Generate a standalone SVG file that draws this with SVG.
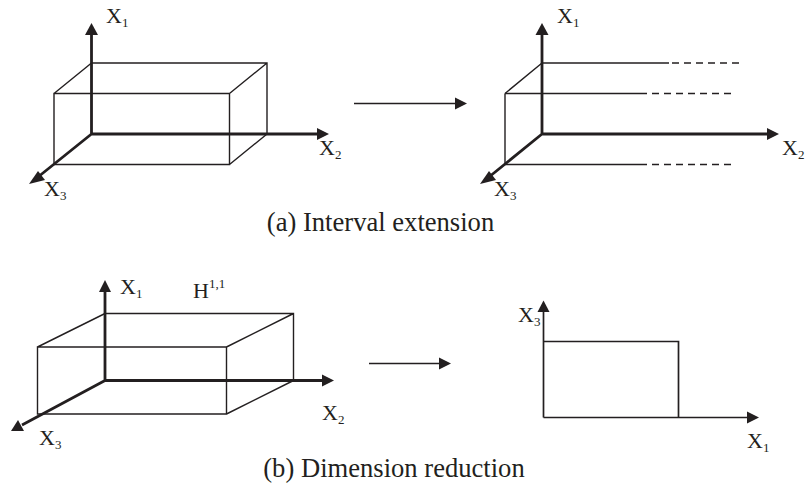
<svg xmlns="http://www.w3.org/2000/svg" width="805" height="484" viewBox="0 0 805 484">
<style>
text{font-family:"Liberation Serif","Times New Roman",serif;fill:#231f20}
.l{font-size:22px}
.s{font-size:13px}
.c{font-size:26.600px;text-anchor:middle}
.t,.a,.d,.m{stroke:#231f20;fill:none}
.t{stroke-width:1.4}
.a{stroke-width:2.8}
.h{fill:#231f20;stroke:none}
.d{stroke-width:1.4;stroke-dasharray:7 5}
.m{stroke-width:1.7}
</style>
<rect width="805" height="484" fill="#fff"/>
<g id="connectors">
<path class="m" d="M354 103.500H456"/>
<polygon class="h" points="467,103.500 455,97.500 455,109.500"/>
<path class="m" d="M369 363.500H440"/>
<polygon class="h" points="451,363.500 439,357.500 439,369.500"/>
</g>
<g id="panel-a-left">
<path class="t" d="M54 93.500H229.500V164.500H54ZM91.500 63H267V134M54 93.500L91.500 63M229.500 93.500L267 63M229.500 164.500L267 134"/>
<path class="a" d="M91.500 134V34M91.500 134H320M91.500 134L38 177"/>
<polygon class="h" points="91.500,23 98,35 85,35"/>
<polygon class="h" points="329,134 317,128 317,140"/>
<polygon class="h" points="29,184 38,171 45,180"/>
<text class="l" x="106" y="23">X<tspan class="s" dy="4">1</tspan></text>
<text class="l" x="319" y="155">X<tspan class="s" dy="4">2</tspan></text>
<text class="l" x="44" y="196">X<tspan class="s" dy="4">3</tspan></text>
</g>
<g id="panel-a-right">
<path class="t" d="M505 93.500V164.500M505 93.500L542 63"/>
<path class="m" d="M542 63H669M505 93.500H647M505 164.500H647"/>
<path class="d" d="M672 63H743M652 93.500H731M652 164.500H731"/>
<path class="a" d="M542 134V34M542 134H770M542 134L489 177"/>
<polygon class="h" points="542,23 548.500,35 535.500,35"/>
<polygon class="h" points="779,134 767,128 767,140"/>
<polygon class="h" points="480,184 489,171 496,180"/>
<text class="l" x="557" y="23">X<tspan class="s" dy="4">1</tspan></text>
<text class="l" x="782" y="155">X<tspan class="s" dy="4">2</tspan></text>
<text class="l" x="494" y="196">X<tspan class="s" dy="4">3</tspan></text>
</g>
<g id="caption-a"><text class="c" x="380.500" y="231">(a) Interval extension</text></g>
<g id="panel-b-left">
<path class="t" d="M37.500 347H226.500V414H37.500ZM105 313.500H293.500V380.500M37.500 347L105 313.500M226.500 347L293.500 313.500M226.500 414L293.500 380.500"/>
<path class="a" d="M105 380.500V290M105 380.500H325M105 380.500L22 425"/>
<polygon class="h" points="105,280 111,292 99,292"/>
<polygon class="h" points="334,380.500 322,374.500 322,386.500"/>
<polygon class="h" points="11,431 18,420 24,431"/>
<text class="l" x="120" y="294">X<tspan class="s" dy="4">1</tspan></text>
<text x="193" y="298" class="l">H<tspan class="s" dy="-10">1,1</tspan></text>
<text class="l" x="322" y="420">X<tspan class="s" dy="4">2</tspan></text>
<text class="l" x="39" y="445">X<tspan class="s" dy="4">3</tspan></text>
</g>
<g id="panel-b-right">
<path class="m" d="M543.500 341.500H678.500V417.500M543.500 417.500H750M543.500 417.500V310"/>
<polygon class="h" points="543.500,300.500 549.500,312 537.500,312"/>
<polygon class="h" points="759,417.500 747,411.500 747,423.500"/>
<text class="l" x="518" y="322">X<tspan class="s" dy="4">3</tspan></text>
<text class="l" x="747" y="448">X<tspan class="s" dy="4">1</tspan></text>
</g>
<g id="caption-b"><text class="c" x="394" y="477">(b) Dimension reduction</text></g>
</svg>
